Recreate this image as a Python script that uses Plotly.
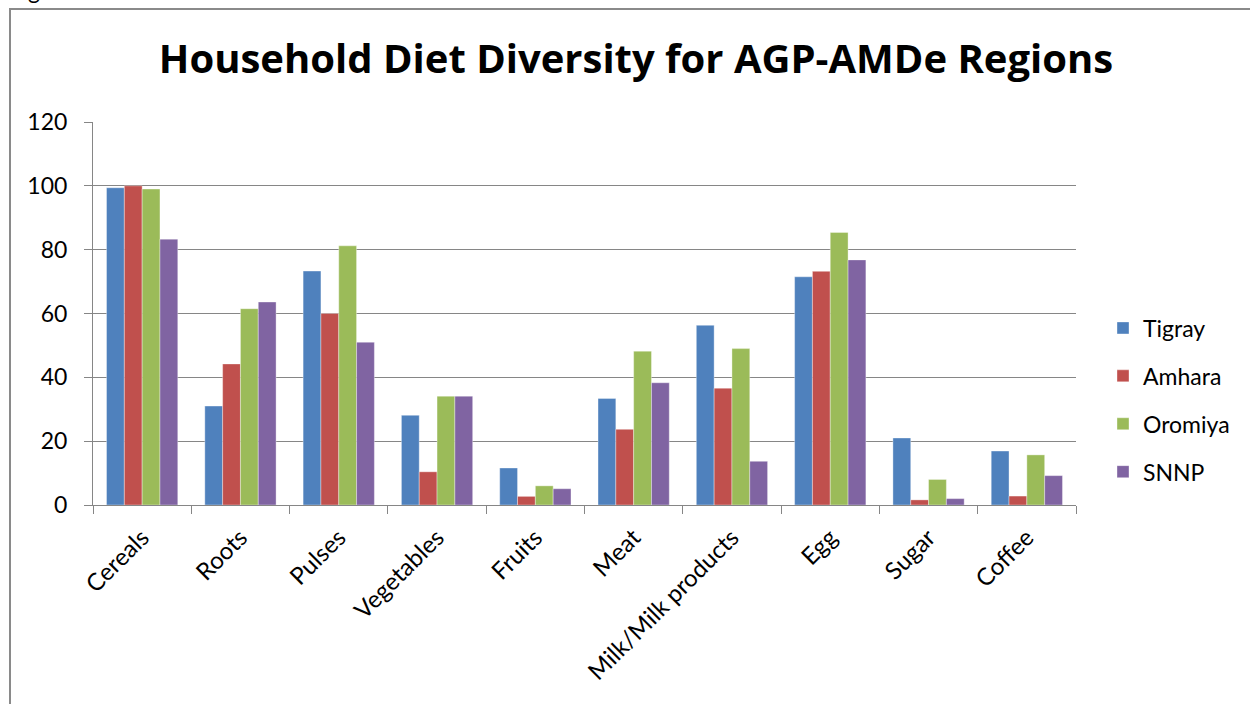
import plotly.graph_objects as go

categories = ["Cereals", "Roots", "Pulses", "Vegetables", "Fruits", "Meat",
              "Milk/Milk products", "Egg", "Sugar", "Coffee"]
tigray = [99.4, 31.0, 73.3, 28.1, 11.6, 33.4, 56.3, 71.5, 21.0, 16.9]
amhara = [100.0, 44.2, 60.0, 10.4, 2.7, 23.7, 36.6, 73.2, 1.6, 2.8]
oromiya = [99.0, 61.5, 81.2, 34.1, 6.0, 48.2, 49.0, 85.4, 8.0, 15.7]
snnp = [83.3, 63.6, 51.0, 34.1, 5.1, 38.3, 13.7, 76.8, 2.0, 9.2]
series_names = ["Tigray", "Amhara", "Oromiya", "SNNP"]
series_colors = ["#4F81BD", "#C0504D", "#9BBB59", "#8064A2"]
y_ticks = [0, 20, 40, 60, 80, 100, 120]

FONT = "Lato"
fig = go.Figure()
for name, vals, col in zip(series_names, [tigray, amhara, oromiya, snnp], series_colors):
    fig.add_trace(go.Bar(
        x=categories, y=vals, name=name, legendgroup=name,
        marker=dict(color=col, line=dict(color="rgba(255,255,255,0.6)", width=0.6)),
    ))

W, H = 1250, 704
ml, mr, mt, mb = 93, 174, 122, 199
pw, ph = W - ml - mr, H - mt - mb

def px_to_paper_x(px):
    return (px - ml) / pw

def px_to_paper_y(py):
    return (H - mb - py) / ph

fig.update_layout(
    width=W, height=H,
    margin=dict(l=ml, r=mr, t=mt, b=mb, autoexpand=False),
    paper_bgcolor="white", plot_bgcolor="white",
    font=dict(family=FONT, size=23, color="#000000"),
    barmode="group", bargap=0.275, bargroupgap=0,
    title=dict(text="<b>Household Diet Diversity for AGP-AMDe Regions</b>",
               x=(155 + 1117) / 2 / W, xref="container", xanchor="center",
               y=1 - 59 / H, yref="container", yanchor="middle",
               font=dict(family="Open Sans", size=40, color="#000000")),
    showlegend=True,
    legend=dict(x=px_to_paper_x(1103), xanchor="left",
                y=px_to_paper_y(400), yanchor="middle",
                font=dict(family=FONT, size=23, color="#000000"),
                tracegroupgap=15, itemwidth=30,
                bgcolor="rgba(0,0,0,0)"),
    xaxis=dict(
        type="category", tickangle=-45, showgrid=False,
        showline=True, linecolor="#868686", linewidth=1,
        ticks="outside", tickson="boundaries", ticklen=8, tickcolor="#868686",
        tickfont=dict(family=FONT, size=24, color="#000000"),
        ticklabelstandoff=8,
        fixedrange=True,
    ),
    yaxis=dict(
        range=[0, 120], tickvals=y_ticks, ticktext=[str(v) for v in y_ticks],
        showgrid=True, gridcolor="#868686", gridwidth=1,
        showline=True, linecolor="#868686", linewidth=1,
        ticks="outside", ticklen=8, tickcolor="#868686",
        tickfont=dict(family=FONT, size=23, color="#000000"),
        ticklabelstandoff=12,
        zeroline=False, fixedrange=True,
    ),
    shapes=[dict(type="rect", xref="paper", yref="paper",
                 x0=px_to_paper_x(10), x1=px_to_paper_x(1300),
                 y0=px_to_paper_y(760), y1=px_to_paper_y(9),
                 line=dict(color="#8A8A8A", width=2), fillcolor="rgba(0,0,0,0)",
                 layer="below")],
    annotations=[dict(text="g", xref="paper", yref="paper",
                      x=px_to_paper_x(26), y=px_to_paper_y(6),
                      xanchor="left", yanchor="bottom", showarrow=False,
                      font=dict(family=FONT, size=23, color="#000000"))],
)

fig.write_html("out.html", config={"displayModeBar": False},
               post_script="document.body.style.margin='0';document.body.style.overflow='hidden';")
